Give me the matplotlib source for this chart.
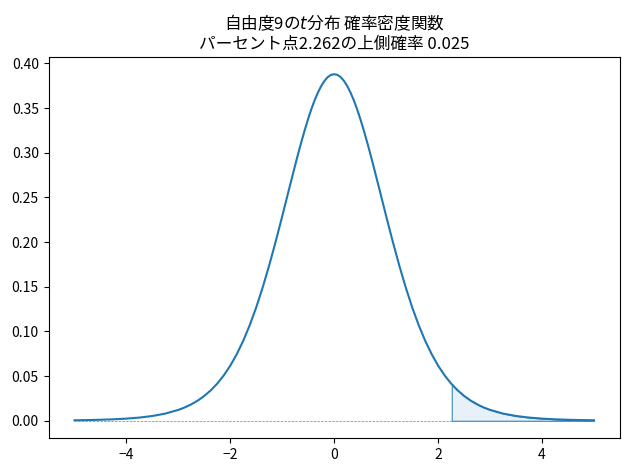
import matplotlib
matplotlib.use("Agg")
import matplotlib.pyplot as plt

plt.rcParams['font.family'] = ['Noto Sans CJK JP', 'DejaVu Sans']

# t distribution (df=9) density, read at fixed x positions
x_vals = [-5.0, -4.75, -4.5, -4.25, -4.0, -3.75, -3.5, -3.25, -3.0,
          -2.875, -2.75, -2.625, -2.5, -2.375, -2.25, -2.125, -2.0,
          -1.875, -1.75, -1.625, -1.5, -1.375, -1.25, -1.125, -1.0,
          -0.875, -0.75, -0.6875, -0.625, -0.5625, -0.5, -0.4375, -0.375,
          -0.3125, -0.25, -0.1875, -0.125, -0.0625, 0.0,
          0.0625, 0.125, 0.1875, 0.25, 0.3125, 0.375, 0.4375, 0.5,
          0.5625, 0.625, 0.6875, 0.75, 0.875, 1.0,
          1.125, 1.25, 1.375, 1.5, 1.625, 1.75, 1.875, 2.0,
          2.125, 2.25, 2.375, 2.5, 2.625, 2.75, 2.875, 3.0,
          3.25, 3.5, 3.75, 4.0, 4.25, 4.5, 4.75, 5.0]
y_vals = [0.00050, 0.00073, 0.00107, 0.00158, 0.00235, 0.00351, 0.00529, 0.00800, 0.01213,
          0.0149, 0.01838, 0.0226, 0.02778, 0.0341, 0.04166, 0.0508, 0.0617,
          0.0746, 0.0897, 0.1072, 0.1271, 0.1496, 0.1743, 0.2010, 0.2291,
          0.2580, 0.2865, 0.3004, 0.3137, 0.3264, 0.3383, 0.3493, 0.3591,
          0.3676, 0.3748, 0.3805, 0.3847, 0.3872, 0.3880,
          0.3872, 0.3847, 0.3805, 0.3748, 0.3676, 0.3591, 0.3493, 0.3383,
          0.3264, 0.3137, 0.3004, 0.2865, 0.2580, 0.2291,
          0.2010, 0.1743, 0.1496, 0.1271, 0.1072, 0.0897, 0.0746, 0.0617,
          0.0508, 0.04166, 0.0341, 0.02778, 0.0226, 0.01838, 0.0149, 0.01213,
          0.00800, 0.00529, 0.00351, 0.00235, 0.00158, 0.00107, 0.00073, 0.00050]

# upper tail beyond the percent point
tail_x = [2.262, 2.375, 2.5, 2.625, 2.75, 2.875, 3.0,
          3.25, 3.5, 3.75, 4.0, 4.25, 4.5, 4.75, 5.0]
tail_y = [0.04087, 0.0341, 0.02778, 0.0226, 0.01838, 0.0149, 0.01213,
          0.00800, 0.00529, 0.00351, 0.00235, 0.00158, 0.00107, 0.00073, 0.00050]

df = 9
point = 2.262
upper_prob = 0.025

fig, ax = plt.subplots(figsize=(6.3, 4.7), dpi=100)
ax.plot(x_vals, y_vals, color="C0")
ax.plot([x_vals[0], x_vals[-1]], [0, 0], color="gray", linestyle="--", linewidth=0.5)
ax.fill_between(tail_x, tail_y, 0, facecolor=(0.12, 0.47, 0.71, 0.1),
                edgecolor="C0", linewidth=0.7)
ax.set_title(f"自由度{df}の$t$分布 確率密度関数\nパーセント点{point}の上側確率 {upper_prob}")

fig.subplots_adjust(left=0.077, right=0.984, top=0.879, bottom=0.068)
plt.savefig("out.png", dpi=100)
plt.close()
